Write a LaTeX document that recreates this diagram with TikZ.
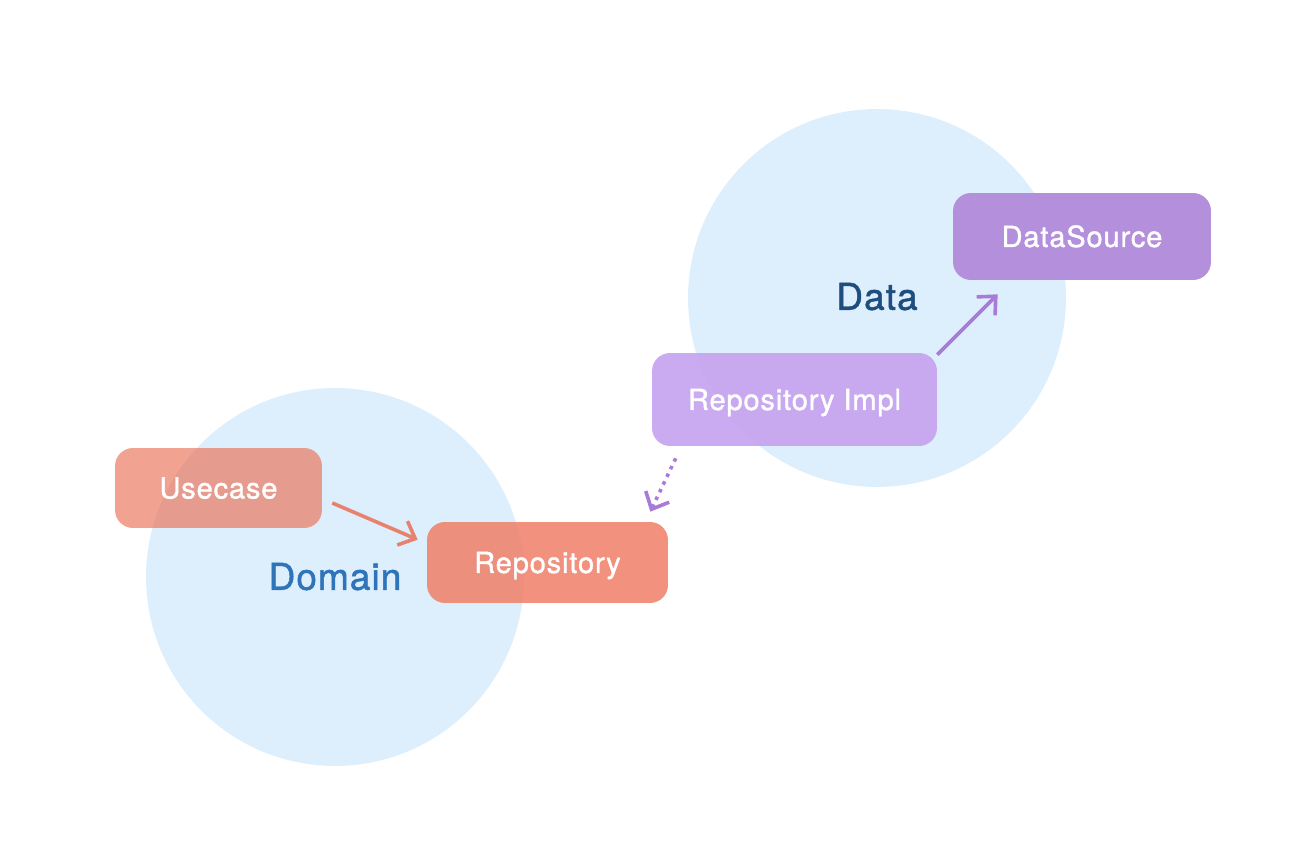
\documentclass[tikz,border=0pt]{standalone}
\usepackage{fontspec}
\setmainfont{TeX Gyre Heros}
\newfontfamily\diagfont[LetterSpace=3, FakeBold=1.3]{TeX Gyre Heros}
\usepackage{xcolor}
\usetikzlibrary{arrows.meta}

\definecolor{zoneblue}{HTML}{DDEEFC}
\definecolor{domainblue}{HTML}{2F73B8}
\definecolor{datablue}{HTML}{1F4E7E}
\definecolor{usecasered}{HTML}{EB7055}
\definecolor{repored}{HTML}{EF8570}
\definecolor{implpurple}{HTML}{C7A6F0}
\definecolor{sourcepurple}{HTML}{B48FDB}
\definecolor{arrowred}{HTML}{E8826E}
\definecolor{arrowpurple}{HTML}{A97BD8}

\begin{document}
\begin{tikzpicture}[x=0.02cm, y=0.02cm, >={Straight Barb[length=0.28cm, width=0.52cm]},
  zone/.style={circle, fill=zoneblue, minimum size=7.56cm, inner sep=0pt},
  lbl/.style={font=\diagfont\fontsize{21}{25}\selectfont, inner sep=0pt,
    text height=15.1pt, text depth=0pt},
  box/.style={rounded corners=0.36cm, text=white, inner sep=0pt,
    font=\diagfont\fontsize{16.5}{20}\selectfont, text height=11.9pt, text depth=0pt},
  link/.style={->, line width=0.072cm}]

  \useasboundingbox (0,0) rectangle (1306,860);

  % Define coordinates for nodes
  \node[zone] (Dz) at (335,283) {};
  \node[zone] (Az) at (877,562) {};
  \node[lbl, text=domainblue] (Dl) at (335,283.5) {Domain};
  \node[lbl, text=datablue] (Al) at (877,563.5) {Data};
  \node[box, fill=usecasered, fill opacity=0.65, text opacity=1,
    minimum width=4.14cm, minimum height=1.6cm] (U) at (218.5,372) {Usecase};
  \node[box, fill=repored, fill opacity=0.9, text opacity=1,
    minimum width=4.82cm, minimum height=1.62cm] (R) at (547.5,297.5) {Repository};
  \node[box, fill=implpurple, fill opacity=0.95, text opacity=1,
    minimum width=5.7cm, minimum height=1.86cm] (Ri) at (794.5,460.5) {Repository Impl};
  \node[box, fill=sourcepurple,
    minimum width=5.16cm, minimum height=1.74cm] (S) at (1082,623.5) {DataSource};

  % Draw arrows between nodes
  \draw[link, arrowred] ([xshift=0.2cm, yshift=-0.3cm]U.east) to ([xshift=-0.18cm, yshift=-0.36cm]R.north west);
  \draw[link, arrowpurple, dash pattern=on 0.07cm off 0.1cm] ([xshift=0.48cm, yshift=-0.24cm]Ri.south west) to ([xshift=-0.36cm, yshift=0.2cm]R.north east);
  \draw[link, arrowpurple] ([yshift=-0.04cm]Ri.north east) to ([xshift=0.9cm, yshift=-0.28cm]S.south west);
\end{tikzpicture}
\end{document}
